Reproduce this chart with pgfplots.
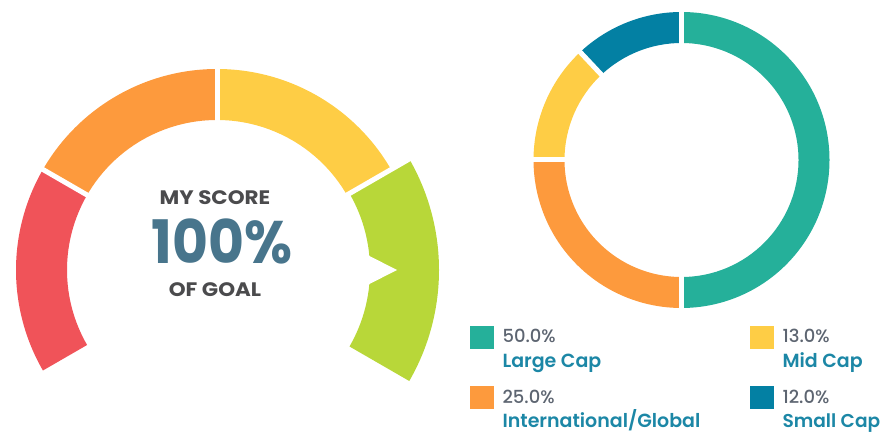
\documentclass[border=0pt]{standalone}
\usepackage{pgfplots}
\pgfplotsset{compat=1.18}
\usepackage{pgfplotstable}
\usepackage{fontspec}
\setmainfont{Poppins}
\newfontfamily\pmed{Poppins Medium}
\newfontfamily\psemi{Poppins SemiBold}
\usetikzlibrary{calc}

\definecolor{gRed}{HTML}{F05359}
\definecolor{gOrange}{HTML}{FD9A3D}
\definecolor{gYellow}{HTML}{FECD45}
\definecolor{gGreen}{HTML}{B8D739}
\definecolor{cTeal}{HTML}{25B09A}
\definecolor{cBlue}{HTML}{0380A3}
\definecolor{txtDark}{HTML}{4B4B4D}
\definecolor{txtScore}{HTML}{48758C}
\definecolor{txtPct}{HTML}{5D6571}
\definecolor{txtLab}{HTML}{1C87A6}

% donut shares, clockwise from the top
\pgfplotstableread{
label value
LargeCap 50
International 25
MidCap 13
SmallCap 12
}\donut

% gauge bands: start/end angle, inner/outer radius
\pgfplotstableread{
band from to rin rout
1 210 150 150 201
2 150 90 150 201
3 90 30 150 201
4 30 -30 153 222
}\gauge

% ring segment: cx cy rin rout a1 a2 colour
\newcommand{\ringseg}[7]{%
  \begin{scope}[shift={(axis cs:#1,#2)}]
    \fill[#7] (#5:#4pt) arc[start angle=#5, end angle=#6, radius=#4pt]
      -- (#6:#3pt) arc[start angle=#6, end angle=#5, radius=#3pt] -- cycle;
  \end{scope}}
\newcommand{\gapline}[5]{%
  \begin{scope}[shift={(axis cs:#1,#2)}]
    \draw[white, line width=5pt] (#5:#3pt) -- (#5:#4pt);
  \end{scope}}

\begin{document}
\begin{tikzpicture}
\begin{axis}[
  x=1pt, y=1pt,
  xmin=0, xmax=882, ymin=0, ymax=436,
  scale only axis, hide axis, clip=false,
  every node/.append style={inner sep=0pt, outer sep=0pt},
]
\pgfplotsextra{
  % gauge
  \def\gcols{{"gRed","gOrange","gYellow","gGreen"}}
  \foreach \i in {0,...,3}{
    \pgfplotstablegetelem{\i}{from}\of\gauge \let\ga=\pgfplotsretval
    \pgfplotstablegetelem{\i}{to}\of\gauge \let\gb=\pgfplotsretval
    \pgfplotstablegetelem{\i}{rin}\of\gauge \let\gi=\pgfplotsretval
    \pgfplotstablegetelem{\i}{rout}\of\gauge \let\go=\pgfplotsretval
    \pgfmathsetmacro{\gc}{\gcols[\i]}
    \ringseg{217}{166}{\gi}{\go}{\ga}{\gb}{\gc}
  }
  \foreach \a in {150,90,30}{\gapline{217}{166}{140}{228}{\a}}
  % pointer notch
  \begin{scope}[shift={(axis cs:217,166)}]
    \fill[white] (6.5:148pt) -- (0:180pt) -- (-6.5:148pt) -- cycle;
  \end{scope}
  % donut
  \def\dcols{{"cTeal","gOrange","gYellow","cBlue"}}
  \def\cum{0}
  \foreach \i in {0,...,3}{
    \pgfplotstablegetelem{\i}{value}\of\donut
    \pgfmathsetmacro{\aa}{90-3.6*\cum}
    \pgfmathsetmacro{\bb}{90-3.6*(\cum+\pgfplotsretval)}
    \pgfmathsetmacro{\dc}{\dcols[\i]}
    \ringseg{681.5}{276}{117}{148}{\aa}{\bb}{\dc}
    \pgfmathsetmacro{\newcum}{\cum+\pgfplotsretval}
    \global\let\cum=\newcum
  }
  \def\cum{0}
  \foreach \i in {0,...,3}{
    \pgfplotstablegetelem{\i}{value}\of\donut
    \pgfmathsetmacro{\aa}{90-3.6*\cum}
    \gapline{681.5}{276}{112}{152}{\aa}
    \pgfmathsetmacro{\newcum}{\cum+\pgfplotsretval}
    \global\let\cum=\newcum
  }
  % legend swatches
  \fill[cTeal] (axis cs:470,87) rectangle (axis cs:494,110);
  \fill[gOrange] (axis cs:470,27) rectangle (axis cs:494,50);
  \fill[gYellow] (axis cs:750,87) rectangle (axis cs:774,110);
  \fill[cBlue] (axis cs:750,27) rectangle (axis cs:774,50);
}
% gauge text
\node[anchor=base, xscale=1.1, font=\bfseries\fontsize{19.5}{19.5}\selectfont, text=txtDark] at (axis cs:215,231) {MY SCORE};
\node[anchor=base, xscale=0.92, font=\bfseries\fontsize{60}{60}\selectfont, text=txtScore] at (axis cs:222,172) {100\%};
\node[anchor=base, xscale=1.1, font=\bfseries\fontsize{19.5}{19.5}\selectfont, text=txtDark] at (axis cs:215,139) {OF GOAL};
% legend text
\node[anchor=base west, font=\pmed\fontsize{18}{18}\selectfont, text=txtPct] at (axis cs:499,93) {50.0\%};
\node[anchor=base west, font=\psemi\fontsize{19}{19}\selectfont, text=txtLab] at (axis cs:499,68) {Large Cap};
\node[anchor=base west, font=\pmed\fontsize{18}{18}\selectfont, text=txtPct] at (axis cs:499,33) {25.0\%};
\node[anchor=base west, font=\psemi\fontsize{19}{19}\selectfont, text=txtLab] at (axis cs:499,9) {International/Global};
\node[anchor=base west, font=\pmed\fontsize{18}{18}\selectfont, text=txtPct] at (axis cs:779,93) {13.0\%};
\node[anchor=base west, font=\psemi\fontsize{19}{19}\selectfont, text=txtLab] at (axis cs:779,68) {Mid Cap};
\node[anchor=base west, font=\pmed\fontsize{18}{18}\selectfont, text=txtPct] at (axis cs:779,33) {12.0\%};
\node[anchor=base west, font=\psemi\fontsize{18.6}{18.6}\selectfont, text=txtLab] at (axis cs:779,9) {Small Cap};
\end{axis}
\pgfresetboundingbox
\useasboundingbox (0,0) rectangle (882pt,436pt);
\end{tikzpicture}
\end{document}
